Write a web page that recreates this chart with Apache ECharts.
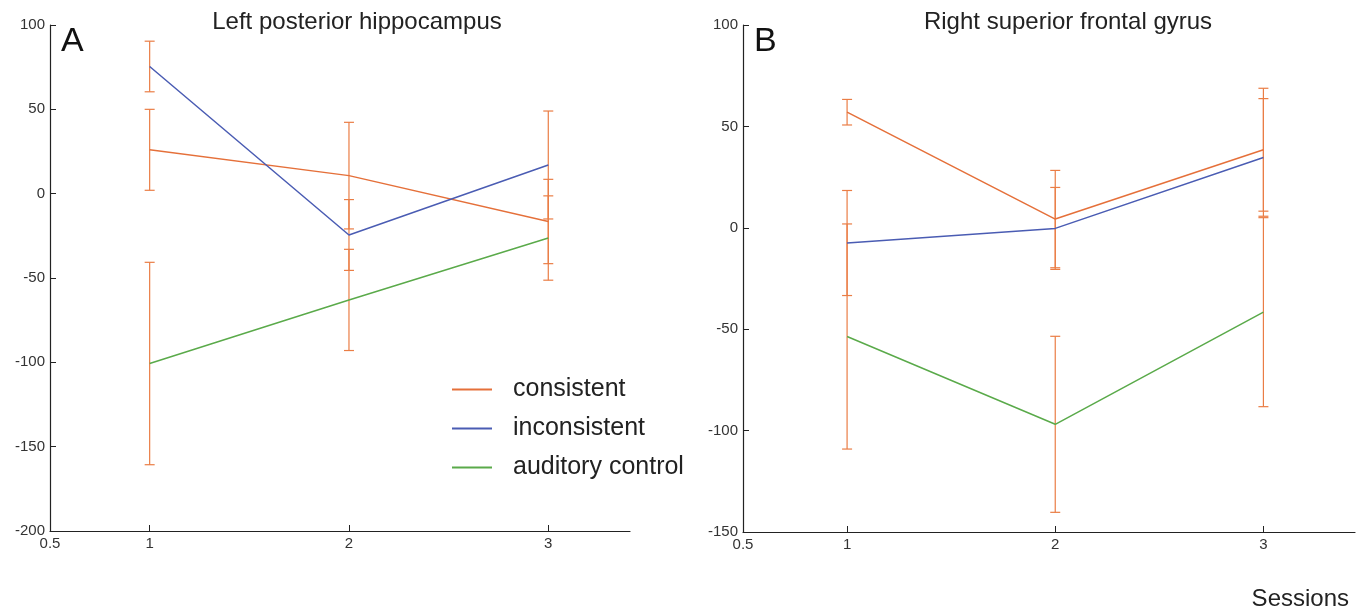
<!DOCTYPE html>
<html>
<head>
<meta charset="utf-8">
<script src="https://cdn.jsdelivr.net/npm/echarts@6/dist/echarts.min.js"></script>
<style>
  html, body { margin: 0; padding: 0; background: #fff; }
  #main { width: 1363px; height: 613px; }
</style>
</head>
<body>
<div id="main"></div>
<script>
// sessions on the x axis
var sessions = [1, 2, 3];
var xTicks = [0.5, 1, 2, 3];
var seriesNames = ['consistent', 'inconsistent', 'auditory control'];

// panel A: left posterior hippocampus
var consA = [26, 10.7, -16.5];
var inconA = [75.4, -24.5, 17];
var audA = [-100.7, -63, -26.3];
var errConsA = [24, 31.6, 25];
var errInconA = [15, 21, 32];
var errAudA = [60, 30, 25];

// panel B: right superior frontal gyrus
var consB = [57, 4.3, 38.5];
var inconB = [-7.5, -0.3, 34.7];
var audB = [-53.6, -96.9, -41.6];
var errConsB = [6.3, 24, 30.3];
var errInconB = [25.9, 20.2, 29];
var errAudB = [55.5, 43.4, 46.6];

var colors = { cons: '#e5703a', incon: '#4a5cb3', aud: '#5aaa4a', err: '#ea7d45' };
var labelFont = "'Liberation Sans', Arial, sans-serif";
var textFont = "'Liberation Sans', Arial, sans-serif";

function pts(vals) {
  return sessions.map(function (s, i) { return [s, vals[i]]; });
}
function bars(vals, errs) {
  return sessions.map(function (s, i) { return [s, vals[i] - errs[i], vals[i] + errs[i]]; });
}

function errRender(params, api) {
  var lo = api.coord([api.value(0), api.value(1)]);
  var hi = api.coord([api.value(0), api.value(2)]);
  var w = 5;
  var st = { stroke: colors.err, lineWidth: 1.2 };
  return {
    type: 'group',
    children: [
      { type: 'line', shape: { x1: lo[0], y1: lo[1], x2: hi[0], y2: hi[1] }, style: st },
      { type: 'line', shape: { x1: lo[0] - w, y1: lo[1], x2: lo[0] + w, y2: lo[1] }, style: st },
      { type: 'line', shape: { x1: hi[0] - w, y1: hi[1], x2: hi[0] + w, y2: hi[1] }, style: st }
    ]
  };
}

function xAxis(idx, max) {
  return {
    type: 'value', gridIndex: idx, min: 0.5, max: max,
    axisLine: { onZero: false, lineStyle: { color: '#222', width: 1.2 } },
    axisTick: { inside: true, length: 6, customValues: xTicks, lineStyle: { color: '#222' } },
    axisLabel: { customValues: xTicks, color: '#333', fontFamily: labelFont, fontSize: 15, margin: 5 },
    splitLine: { show: false }
  };
}
function yAxis(idx, min) {
  return {
    type: 'value', gridIndex: idx, min: min, max: 100, interval: 50,
    axisLine: { show: true, lineStyle: { color: '#222', width: 1.2 } },
    axisTick: { inside: true, length: 6, lineStyle: { color: '#222' } },
    axisLabel: { color: '#333', fontFamily: labelFont, fontSize: 15, margin: 5 },
    splitLine: { show: false }
  };
}

function lineSeries(name, idx, vals, color) {
  return {
    name: name, type: 'line', xAxisIndex: idx, yAxisIndex: idx,
    data: pts(vals), symbol: 'none', z: 3,
    lineStyle: { color: color, width: 1.5 }, itemStyle: { color: color }
  };
}
function errSeries(idx, vals, errs) {
  return {
    type: 'custom', xAxisIndex: idx, yAxisIndex: idx, z: 2,
    renderItem: errRender, data: bars(vals, errs), encode: { x: 0, y: [1, 2] }
  };
}

var titleStyle = { fontFamily: textFont, fontSize: 24, fontWeight: 'normal', color: '#222' };
var letterStyle = { fontFamily: textFont, fontSize: 34, fontWeight: 'normal', color: '#111' };

var chart = echarts.init(document.getElementById('main'));
chart.setOption({
  backgroundColor: '#fff',
  animation: false,
  title: [
    { text: 'Left posterior hippocampus', left: 357, top: 10, padding: 0, textAlign: 'center', textStyle: titleStyle },
    { text: 'Right superior frontal gyrus', left: 1068, top: 10, padding: 0, textAlign: 'center', textStyle: titleStyle },
    { text: 'A', left: 61, top: 25, padding: 0, textStyle: letterStyle },
    { text: 'B', left: 754, top: 25, padding: 0, textStyle: letterStyle },
    { text: 'Sessions', right: 14, top: 587, padding: 0,
      textStyle: { fontFamily: textFont, fontSize: 24, fontWeight: 'normal', color: '#222' } }
  ],
  legend: {
    data: seriesNames, orient: 'vertical', left: 452, top: 377, padding: 0,
    icon: 'rect', itemWidth: 40, itemHeight: 2, itemGap: 14,
    textStyle: { fontFamily: textFont, fontSize: 25, color: '#222', padding: [0, 0, 0, 16] }
  },
  grid: [
    { left: 50, top: 25, width: 580, height: 506 },
    { left: 743, top: 25, width: 612, height: 507 }
  ],
  xAxis: [xAxis(0, 3.41), xAxis(1, 3.44)],
  yAxis: [yAxis(0, -200), yAxis(1, -150)],
  series: [
    errSeries(0, consA, errConsA),
    errSeries(0, inconA, errInconA),
    errSeries(0, audA, errAudA),
    lineSeries('consistent', 0, consA, colors.cons),
    lineSeries('inconsistent', 0, inconA, colors.incon),
    lineSeries('auditory control', 0, audA, colors.aud),
    errSeries(1, consB, errConsB),
    errSeries(1, inconB, errInconB),
    errSeries(1, audB, errAudB),
    lineSeries('consistent', 1, consB, colors.cons),
    lineSeries('inconsistent', 1, inconB, colors.incon),
    lineSeries('auditory control', 1, audB, colors.aud)
  ]
});
</script>
</body>
</html>
